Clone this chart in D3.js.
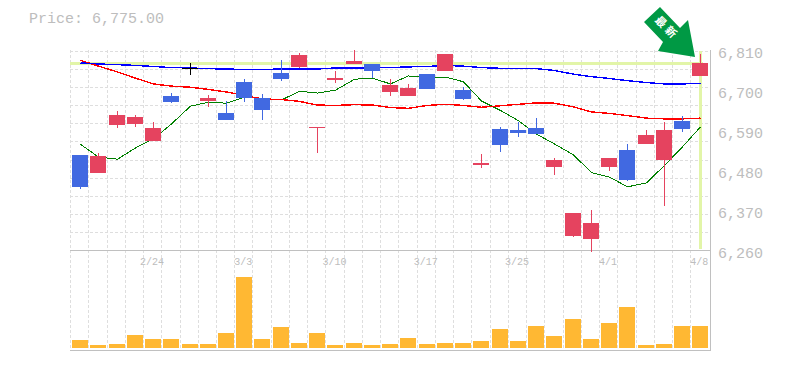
<!DOCTYPE html>
<html>
<head>
<meta charset="utf-8">
<script src="https://cdn.jsdelivr.net/npm/d3@7"></script>
<style>
body { margin: 0; background: #fff; }
text { font-family: "Liberation Mono", monospace; fill: #bdbdbd; }
</style>
</head>
<body>
<div class="chart"></div>
<script>
var dates = ["2/18","2/19","2/20","2/21","2/24","2/25","2/26","2/27","2/28","3/3","3/4","3/5","3/6","3/7","3/10","3/11","3/12","3/13","3/14","3/17","3/18","3/19","3/21","3/24","3/25","3/26","3/27","3/28","3/31","4/1","4/2","4/3","4/4","4/7","4/8"];
var dateLabels = ["2/24","3/3","3/10","3/17","3/25","4/1","4/8"];
var priceLabels = [6810, 6700, 6590, 6480, 6370, 6260];
var gridPrices = [6810,6760,6710,6660,6610,6560,6510,6460,6410,6360,6310];

var open  = [6522,6473,6605,6608,6561,6686,6762,6672,6639,6724,6680,6749,6765,6597,6730,6773,6773,6697,6686,6746,6754,6702,6495,6594,6592,6597,6489,6301,6293,6489,6536,6553,6509,6617,6740];
var close = [6434,6520,6633,6628,6597,6669,6762,6680,6619,6680,6647,6733,6798,6600,6735,6781,6755,6716,6708,6705,6801,6677,6500,6550,6583,6581,6509,6362,6335,6514,6453,6578,6591,6594,6775];
var high  = [6522,6528,6644,6633,6614,6694,6777,6688,6672,6733,6691,6785,6803,6600,6755,6811,6773,6733,6719,6746,6801,6711,6525,6600,6614,6625,6514,6362,6371,6514,6553,6591,6614,6630,6800];
var low   = [6429,6473,6597,6601,6561,6666,6744,6655,6619,6669,6619,6727,6763,6528,6722,6773,6735,6686,6686,6705,6754,6675,6487,6531,6572,6581,6467,6296,6257,6478,6451,6553,6382,6586,6740];

var maShort = [6552,6517,6511,6542,6567,6608,6657,6668,6665,6682,6678,6674,6698,6693,6701,6731,6734,6718,6740,6737,6737,6724,6671,6645,6617,6580,6553,6523,6474,6462,6435,6446,6494,6545,6600];
var maMid   = [6783,6767,6751,6734,6718,6712,6709,6703,6696,6686,6677,6675,6670,6660,6659,6661,6660,6653,6651,6659,6662,6659,6654,6658,6662,6666,6665,6655,6641,6637,6631,6624,6622,6622,6624];
var maLong  = [6776,6773,6771,6769,6766,6763,6762,6760,6759,6758,6758,6759,6759,6759,6762,6762,6762,6763,6765,6766,6769,6767,6763,6761,6761,6760,6755,6745,6738,6733,6727,6722,6718,6718,6720];

var volume = [80,30,40,130,90,90,40,40,150,710,90,210,50,150,30,50,30,40,100,40,50,50,70,190,70,220,120,290,90,250,410,30,40,220,220];
var lastPrice = 6775;

var svgWidth = 785;
var svgHeight = 370;

var svg = d3.select(".chart")
    .append("svg")
    .attr("width", svgWidth)
    .attr("height", svgHeight)
    .style("display", "block");

// scales
var xScale = d3.scaleBand()
    .domain(dates)
    .range([71, 709.4])
    .paddingInner(0.12)
    .paddingOuter(0.06);

var yScale = d3.scaleLinear()
    .domain([6260, 6810])
    .range([250.5, 50.5]);

var volScale = d3.scaleLinear()
    .domain([0, 800])
    .range([348, 268]);

var barWidth = Math.round(xScale.bandwidth());
var barX = d => Math.round(xScale(d));
var midX = d => barX(d) + 8.5;
var px = v => Math.round(yScale(v));

// grid
var grid = svg.append("g")
    .attr("stroke", "#dedede")
    .attr("stroke-dasharray", "3,2")
    .attr("shape-rendering", "crispEdges");

grid.selectAll("line.h")
    .data(gridPrices)
    .enter()
    .append("line")
    .attr("x1", 70)
    .attr("x2", 710)
    .attr("y1", d => px(d) + 0.5)
    .attr("y2", d => px(d) + 0.5);

grid.selectAll("line.v")
    .data(dates)
    .enter()
    .append("line")
    .attr("x1", d => barX(d) - 1.5)
    .attr("x2", d => barX(d) - 1.5)
    .attr("y1", 50)
    .attr("y2", 350);

// frame
var frame = svg.append("g")
    .attr("stroke", "#c0c0c0")
    .attr("shape-rendering", "crispEdges");
frame.append("line").attr("x1", 70).attr("x2", 711).attr("y1", 250.5).attr("y2", 250.5);
frame.append("line").attr("x1", 70).attr("x2", 711).attr("y1", 350.5).attr("y2", 350.5);
frame.append("line").attr("x1", 710.5).attr("x2", 710.5).attr("y1", 50).attr("y2", 351);

// volume bars
svg.append("g")
    .attr("shape-rendering", "crispEdges")
    .selectAll("rect")
    .data(volume)
    .enter()
    .append("rect")
    .attr("x", (d, i) => barX(dates[i]))
    .attr("y", d => volScale(d))
    .attr("width", barWidth)
    .attr("height", d => volScale(0) - volScale(d))
    .attr("fill", "#ffb833");

// current price cross lines
var lastX = midX(dates[dates.length - 1]);
var cross = svg.append("g")
    .attr("stroke", "#e2f5a8")
    .attr("stroke-width", 3)
    .attr("shape-rendering", "crispEdges");
cross.append("line").attr("x1", 70).attr("x2", lastX + 2).attr("y1", yScale(lastPrice)).attr("y2", yScale(lastPrice));
cross.append("line").attr("x1", lastX).attr("x2", lastX).attr("y1", 51).attr("y2", 249);

// moving averages
var lineGen = d3.line()
    .x((d, i) => midX(dates[i]))
    .y(d => yScale(d));

[[maShort, "#008000", 1], [maMid, "#ff0000", 1.4], [maLong, "#0000ff", 1.4]].forEach(function(s) {
    svg.append("path")
        .attr("d", lineGen(s[0]))
        .attr("fill", "none")
        .attr("stroke", s[1])
        .attr("stroke-width", s[2])
        .attr("shape-rendering", "crispEdges");
});

// candles
function candleColor(i) {
    if (close[i] == open[i]) return "#000000";
    return close[i] > open[i] ? "#e5435f" : "#4169e1";
}

var candles = svg.append("g").attr("shape-rendering", "crispEdges");

candles.selectAll("line")
    .data(dates)
    .enter()
    .append("line")
    .attr("x1", d => midX(d))
    .attr("x2", d => midX(d))
    .attr("y1", (d, i) => px(high[i]))
    .attr("y2", (d, i) => px(low[i]))
    .attr("stroke", (d, i) => candleColor(i));

candles.selectAll("rect")
    .data(dates)
    .enter()
    .append("rect")
    .attr("x", d => barX(d))
    .attr("y", (d, i) => px(Math.max(open[i], close[i])))
    .attr("width", barWidth)
    .attr("height", (d, i) => Math.max(1, px(Math.min(open[i], close[i])) - px(Math.max(open[i], close[i]))))
    .attr("fill", (d, i) => candleColor(i));

// axes
var rightAxis = d3.axisRight(yScale)
    .tickValues(priceLabels)
    .tickSize(0)
    .tickPadding(0)
    .tickFormat(d3.format(","));

var yAxis = svg.append("g")
    .attr("transform", "translate(718, 0)")
    .call(rightAxis);
yAxis.select(".domain").remove();
yAxis.selectAll("text")
    .attr("x", 0)
    .attr("dy", "0.46em")
    .style("font-size", "15px")
    .style("font-family", "'Liberation Mono', monospace")
    .attr("fill", "#bdbdbd");

var bottomAxis = d3.axisBottom(xScale)
    .tickValues(dateLabels)
    .tickSize(0)
    .tickPadding(0);

var xAxis = svg.append("g")
    .attr("transform", "translate(-1, 258)")
    .call(bottomAxis);
xAxis.select(".domain").remove();
xAxis.selectAll("text")
    .style("font-size", "10px")
    .style("font-family", "'Liberation Mono', monospace")
    .attr("fill", "#bdbdbd");

// title
svg.append("text")
    .attr("x", 29)
    .attr("y", 23)
    .style("font-size", "15px")
    .text("Price: " + d3.format(",.2f")(lastPrice));

// arrow marker pointing at the latest candle
svg.append("polygon")
    .attr("points", "660,7 644,22 663,42 658,51 695,57 688,20 680,28")
    .attr("fill", "#009944");

svg.append("text")
    .attr("transform", "translate(667, 28) rotate(45)")
    .attr("text-anchor", "middle")
    .attr("dy", "0.35em")
    .style("font-family", "'Noto Sans CJK JP'")
    .style("font-size", "11px")
    .style("font-weight", "bold")
    .style("letter-spacing", "3px")
    .style("fill", "#ffffff")
    .text("最新");
</script>
</body>
</html>
